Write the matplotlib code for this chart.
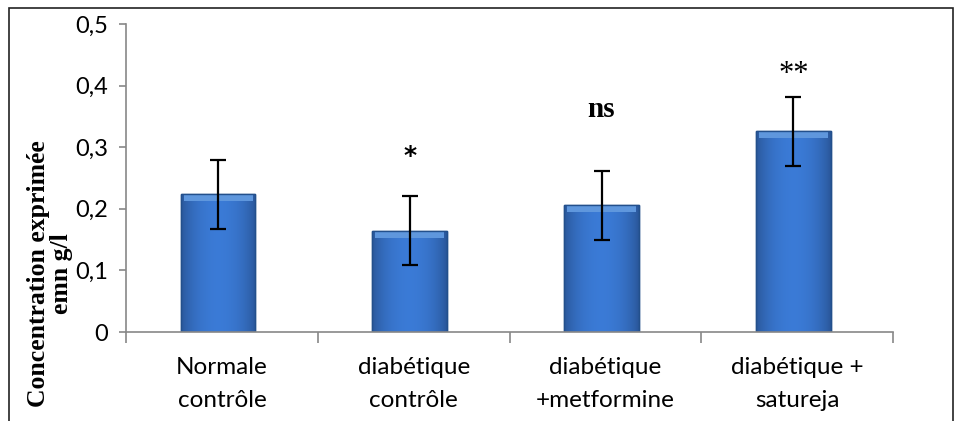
import matplotlib.pyplot as plt
import numpy as np
from matplotlib.patches import Rectangle

categories = ["Normale\ncontrôle", "diabétique\ncontrôle", "diabétique\n+metformine", "diabétique +\nsatureja"]
values = [0.224, 0.164, 0.206, 0.326]
errors = [0.056, 0.056, 0.056, 0.056]
signif = ["", "*", "ns", "**"]
yticks = [0, 0.1, 0.2, 0.3, 0.4, 0.5]
ytick_labels = ["0", "0,1", "0,2", "0,3", "0,4", "0,5"]

fig = plt.figure(figsize=(9.57, 4.21), dpi=100)
ax = fig.add_axes([0.1317, 0.2114, 0.8014, 0.7316])

# frame around the whole picture
fig.patches.append(Rectangle((9 / 957, -0.05), 944 / 957, 1.05 - 8 / 421,
                             transform=fig.transFigure, fill=False,
                             edgecolor="#222222", linewidth=1.2))

x = np.arange(len(categories))
bars = ax.bar(x - 0.02, values, width=0.39, color="#3a72c0",
              edgecolor="#23508c", linewidth=1.0, zorder=2)

# horizontal shading on each bar
grad = np.linspace(0, 1, 100)
shade = 0.45 + 0.55 * np.sin(np.pi * (0.05 + 0.9 * grad)) ** 0.5
img = np.zeros((1, 100, 3))
img[0, :, 0] = 0.20 * shade + 0.03
img[0, :, 1] = 0.42 * shade + 0.06
img[0, :, 2] = 0.72 * shade + 0.12
for b in bars:
    x0, w, h = b.get_x(), b.get_width(), b.get_height()
    im = ax.imshow(img, extent=[x0, x0 + w, 0, h], aspect="auto", zorder=2.1)
    im.set_clip_path(b)
    # lighter bevel at the top
    ax.add_patch(Rectangle((x0 + 0.015, h - 0.011), w - 0.03, 0.011, facecolor="#5f97dd",
                           edgecolor="none", zorder=2.2))
    ax.add_patch(Rectangle((x0, 0), w, h, fill=False, edgecolor="#23508c",
                           linewidth=1.0, zorder=2.3))

ax.errorbar(x - 0.02, values, yerr=errors, fmt="none", ecolor="black",
            elinewidth=1.6, capsize=6, capthick=1.6, zorder=3)

ax.text(x[1] - 0.02, 0.285, signif[1], ha="center", va="center",
        fontsize=18, fontweight="bold", family="DejaVu Sans")
ax.text(x[2] - 0.02, 0.362, signif[2], ha="center", va="center",
        fontsize=21, fontweight="bold", family="Liberation Serif")
ax.text(x[3] - 0.02, 0.418, signif[3], ha="center", va="center",
        fontsize=22, family="Liberation Serif")

ax.set_xlim(-0.5, 3.5)
ax.set_ylim(0, 0.5)
ax.set_yticks(yticks)
ax.set_yticklabels(ytick_labels, fontsize=17, family="Lato")
ax.set_xticks(x)
ax.set_xticklabels(categories, fontsize=17.5, linespacing=1.7, family="Lato")
ax.tick_params(axis="x", length=0, pad=18)
ax.set_xticks(np.arange(-0.5, 4.0, 1.0), minor=True)
ax.tick_params(axis="x", which="minor", length=8, color="#888888", width=1.2)
ax.tick_params(axis="y", length=5, color="#888888", width=1.2, pad=8)

for s in ["top", "right"]:
    ax.spines[s].set_visible(False)
for s in ["left", "bottom"]:
    ax.spines[s].set_color("#888888")
    ax.spines[s].set_linewidth(1.2)

fig.text(0.052, 0.35, "Concentration exprimée\nemn g/l", rotation=90,
         ha="center", va="center", fontsize=18.5, fontweight="bold",
         family="Liberation Serif", linespacing=1.0)

fig.savefig("out.png", dpi=100)
